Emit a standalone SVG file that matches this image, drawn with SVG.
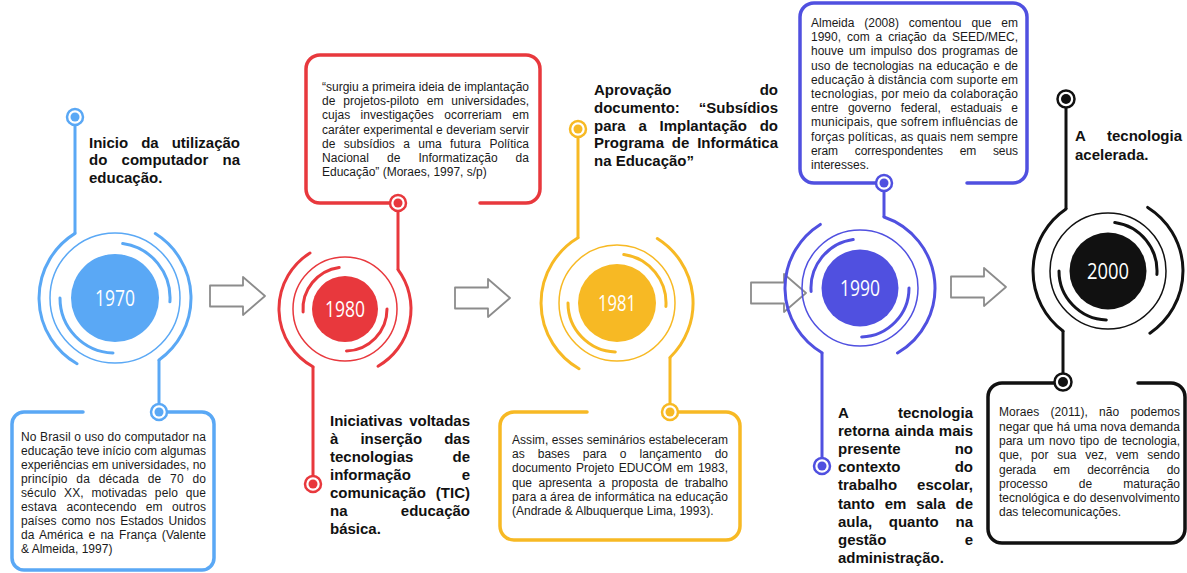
<svg xmlns="http://www.w3.org/2000/svg" width="1187" height="573" viewBox="0 0 1187 573">
<style>
.b{font-family:"Liberation Sans",Arial,sans-serif;font-size:12px;fill:#1a1a1a}
.h{font-family:"Liberation Sans",Arial,sans-serif;font-size:15px;font-weight:bold;fill:#111}
.e{text-anchor:end}
.yr{font-family:"Open Sans","Noto Sans",sans-serif;font-size:22px;fill:#fff;text-anchor:middle}
.arc{fill:none;stroke-width:3;stroke-linecap:round}
.ring{fill:none;stroke-width:1.5}
.box{fill:none;stroke-width:3.5;stroke-linecap:round}
.ln{stroke-width:3}
.mk{fill:#fff;stroke-width:2.5}
.arrow{fill:#fff;stroke:#8c8c8c;stroke-width:1.8;stroke-linejoin:round}
.cb{stroke:#5AA8F5}.fb{fill:#5AA8F5}
.cr{stroke:#E8383D}.fr{fill:#E8383D}
.cy{stroke:#F7B924}.fy{fill:#F7B924}
.cp{stroke:#5050E0}.fp{fill:#5050E0}
.ck{stroke:#111}.fk{fill:#111}
</style>
<rect width="1187" height="573" fill="#fff"/>

<!-- connectors -->
<g id="connectors">
<line class="ln cb" x1="75" y1="125" x2="75" y2="233.4"/>
<line class="ln cb" x1="159" y1="360" x2="159" y2="404"/>
<line class="ln cr" x1="398" y1="211" x2="398" y2="269.7"/>
<line class="ln cr" x1="313" y1="366.7" x2="313" y2="477"/>
<line class="ln cy" x1="578" y1="137" x2="578" y2="237.8"/>
<line class="ln cy" x1="670" y1="357.5" x2="670" y2="405"/>
<line class="ln cp" x1="884" y1="190" x2="884" y2="217"/>
<line class="ln cp" x1="822" y1="352.7" x2="822" y2="459"/>
<line class="ln ck" x1="1066" y1="107" x2="1066" y2="208.9"/>
<line class="ln ck" x1="1063" y1="331" x2="1063" y2="375"/>
<path class="arrow" d="M210,285.5 H243 V277 L265,296 L243,315 V306.5 H210 Z"/>
<path class="arrow" d="M455,287.5 H488 V279 L510,298 L488,317 V308.5 H455 Z"/>
<path class="arrow" d="M751,282.5 H784 V274 L806,293 L784,312 V303.5 H751 Z"/>
<path class="arrow" d="M951,276.5 H984 V268 L1006,287 L984,306 V297.5 H951 Z"/>
</g>

<!-- 1970 -->
<g id="node-1970">
<path class="arc cb" d="M77,363.8 A76,76 0 0 1 75,233.4"/>
<path class="arc cb" d="M155.3,233.6 A76,76 0 0 1 159,360"/>
<circle class="ring cb" cx="115" cy="298" r="65"/>
<path class="arc cb" d="M122.7,243.5 A55,55 0 0 1 169.9,301.8"/>
<path class="arc cb" d="M113,353 A55,55 0 0 1 60,298"/>
<circle class="fb" cx="115" cy="298" r="44"/>
<text class="yr" x="115" y="306" textLength="40" lengthAdjust="spacingAndGlyphs">1970</text>
<circle class="mk cb" cx="75" cy="117" r="8"/><circle class="fb" cx="75" cy="117" r="4.5"/>
</g>
<g id="title-1970">
<text class="h" x="89" y="147.5">Inicio</text><text class="h" x="141.2" y="147.5">da</text><text class="h e" x="240" y="147.5">utilização</text>
<text class="h" x="89" y="165">do</text><text class="h" x="121.6" y="165">computador</text><text class="h e" x="240" y="165">na</text>
<text class="h" x="89" y="182.5">educação.</text>
</g>
<g id="box-1970">
<path class="box cb" d="M83,412 H24 A12,12 0 0 0 12,424 V558 A12,12 0 0 0 24,570 H202 A12,12 0 0 0 214,558 V424 A12,12 0 0 0 202,412 H159"/>
<circle class="mk cb" cx="159" cy="412" r="8"/><circle class="fb" cx="159" cy="412" r="4.5"/>
<text class="b" x="21" y="441" textLength="185" lengthAdjust="spacing">No Brasil o uso do computador na</text>
<text class="b" x="21" y="455" textLength="185" lengthAdjust="spacing">educação teve início com algumas</text>
<text class="b" x="21" y="469" textLength="185" lengthAdjust="spacing">experiências em universidades, no</text>
<text class="b" x="21" y="483" textLength="185" lengthAdjust="spacing" word-spacing="5.3">princípio da década de 70 do</text>
<text class="b" x="21" y="497" textLength="185" lengthAdjust="spacing" word-spacing="4.2">século XX, motivadas pelo que</text>
<text class="b" x="21" y="511" textLength="185" lengthAdjust="spacing" word-spacing="5.8">estava acontecendo em outros</text>
<text class="b" x="21" y="525" textLength="185" lengthAdjust="spacing" word-spacing="1.7">países como nos Estados Unidos</text>
<text class="b" x="21" y="539" textLength="185" lengthAdjust="spacing" word-spacing="1.8">da América e na França (Valente</text>
<text class="b" x="21" y="553">&amp; Almeida, 1997)</text>
</g>

<!-- 1980 -->
<g id="node-1980">
<path class="arc cr" d="M398,269.7 A66,66 0 0 1 378,366.2"/>
<path class="arc cr" d="M313,366.7 A66,66 0 0 1 310,253"/>
<circle class="ring cr" cx="345" cy="309" r="52"/>
<path class="arc cr" d="M303.1,311.9 A42,42 0 0 1 339.2,267.4"/>
<path class="arc cr" d="M387,309 A42,42 0 0 1 346.5,351"/>
<circle class="fr" cx="345" cy="309" r="33"/>
<text class="yr" x="345" y="317" textLength="40" lengthAdjust="spacingAndGlyphs">1980</text>
<circle class="mk cr" cx="313" cy="484" r="8"/><circle class="fr" cx="313" cy="484" r="4.5"/>
</g>
<g id="box-1980">
<path class="box cr" d="M398,203 H320 A14,14 0 0 1 306,189 V69 A14,14 0 0 1 320,55 H526 A14,14 0 0 1 540,69 V189 A14,14 0 0 1 526,203 H480"/>
<circle class="mk cr" cx="398" cy="203" r="8"/><circle class="fr" cx="398" cy="203" r="4.5"/>
<text class="b" x="322" y="91" textLength="207" lengthAdjust="spacing">“surgiu a primeira ideia de implantação</text>
<text class="b" x="322" y="105.2" textLength="207" lengthAdjust="spacing" word-spacing="4.4">de projetos-piloto em universidades,</text>
<text class="b" x="322" y="119.4" textLength="207" lengthAdjust="spacing" word-spacing="7.1">cujas investigações ocorreriam em</text>
<text class="b" x="322" y="133.6" textLength="207" lengthAdjust="spacing">caráter experimental e deveriam servir</text>
<text class="b" x="322" y="147.8" textLength="207" lengthAdjust="spacing" word-spacing="5">de subsídios a uma futura Política</text>
<text class="b" x="322" y="162" textLength="207" lengthAdjust="spacing" word-spacing="14.6">Nacional de Informatização da</text>
<text class="b" x="322" y="176.2">Educação” (Moraes, 1997, s/p)</text>
</g>
<g id="title-1980">
<text class="h" x="330" y="426">Iniciativas</text><text class="h e" x="470" y="426">voltadas</text>
<text class="h" x="330" y="444">à</text><text class="h" x="360.4" y="444">inserção</text><text class="h e" x="470" y="444">das</text>
<text class="h" x="330" y="462">tecnologias</text><text class="h e" x="470" y="462">de</text>
<text class="h" x="330" y="480">informação</text><text class="h e" x="470" y="480">e</text>
<text class="h" x="330" y="498">comunicação</text><text class="h e" x="470" y="498">(TIC)</text>
<text class="h" x="330" y="516">na</text><text class="h e" x="470" y="516">educação</text>
<text class="h" x="330" y="534">básica.</text>
</g>

<!-- 1981 -->
<g id="node-1981">
<path class="arc cy" d="M579,368.8 A76,76 0 0 1 578,237.8"/>
<path class="arc cy" d="M657.3,238.5 A76,76 0 0 1 670,357.5"/>
<circle class="ring cy" cx="617" cy="303" r="58"/>
<path class="arc cy" d="M623.8,254.5 A49,49 0 0 1 665.9,306.4"/>
<path class="arc cy" d="M615.3,352 A49,49 0 0 1 568,303"/>
<circle class="fy" cx="617" cy="303" r="39"/>
<text class="yr" x="617" y="311" textLength="38" lengthAdjust="spacingAndGlyphs">1981</text>
<circle class="mk cy" cx="578" cy="129" r="8"/><circle class="fy" cx="578" cy="129" r="4.5"/>
</g>
<g id="title-1981">
<text class="h" x="594" y="95">Aprovação</text><text class="h e" x="778" y="95">do</text>
<text class="h" x="594" y="112.75">documento:</text><text class="h e" x="778" y="112.75">“Subsídios</text>
<text class="h" x="594" y="130.5">para</text><text class="h" x="638.4" y="130.5">a</text><text class="h" x="659.5" y="130.5">Implantação</text><text class="h e" x="778" y="130.5">do</text>
<text class="h" x="594" y="148.25">Programa</text><text class="h" x="671.8" y="148.25">de</text><text class="h e" x="778" y="148.25">Informática</text>
<text class="h" x="594" y="166">na Educação”</text>
</g>
<g id="box-1981">
<path class="box cy" d="M587,412 H514 A14,14 0 0 0 500,426 V526 A14,14 0 0 0 514,540 H726 A14,14 0 0 0 740,526 V426 A14,14 0 0 0 726,412 H670"/>
<circle class="mk cy" cx="670" cy="412" r="8"/><circle class="fy" cx="670" cy="412" r="4.5"/>
<text class="b" x="512" y="444" textLength="216" lengthAdjust="spacing">Assim, esses seminários estabeleceram</text>
<text class="b" x="512" y="458.2" textLength="216" lengthAdjust="spacing" word-spacing="9.7">as bases para o lançamento do</text>
<text class="b" x="512" y="472.4" textLength="216" lengthAdjust="spacing" word-spacing="1.3">documento Projeto EDUCOM em 1983,</text>
<text class="b" x="512" y="486.6" textLength="216" lengthAdjust="spacing" word-spacing="3.2">que apresenta a proposta de trabalho</text>
<text class="b" x="512" y="500.8" textLength="216" lengthAdjust="spacing">para a área de informática na educação</text>
<text class="b" x="512" y="515">(Andrade &amp; Albuquerque Lima, 1993).</text>
</g>

<!-- 1990 -->
<g id="node-1990">
<path class="arc cp" d="M884,217 A75,75 0 0 1 897.5,353"/>
<path class="arc cp" d="M822,352.7 A75,75 0 0 1 820.3,224.4"/>
<circle class="ring cp" cx="860" cy="288" r="58"/>
<path class="arc cp" d="M811.1,291.4 A49,49 0 0 1 853.2,239.5"/>
<path class="arc cp" d="M909,288 A49,49 0 0 1 861.7,337"/>
<circle class="fp" cx="860" cy="288" r="38.5"/>
<text class="yr" x="860" y="296" textLength="40" lengthAdjust="spacingAndGlyphs">1990</text>
<circle class="mk cp" cx="822" cy="466" r="8"/><circle class="fp" cx="822" cy="466" r="4.5"/>
</g>
<g id="box-1990">
<path class="box cp" d="M884,183 H814 A14,14 0 0 1 800,169 V17 A14,14 0 0 1 814,3 H1013 A14,14 0 0 1 1027,17 V169 A14,14 0 0 1 1013,183 H967"/>
<circle class="mk cp" cx="884" cy="183" r="8"/><circle class="fp" cx="884" cy="183" r="4.5"/>
<text class="b" x="811" y="27" textLength="207" lengthAdjust="spacing" word-spacing="6.6">Almeida (2008) comentou que em</text>
<text class="b" x="811" y="41.2" textLength="207" lengthAdjust="spacing" word-spacing="2.6">1990, com a criação da SEED/MEC,</text>
<text class="b" x="811" y="55.4" textLength="207" lengthAdjust="spacing" word-spacing="1.9">houve um impulso dos programas de</text>
<text class="b" x="811" y="69.6" textLength="207" lengthAdjust="spacing" word-spacing="1.4">uso de tecnologias na educação e de</text>
<text class="b" x="811" y="83.8" textLength="207" lengthAdjust="spacing">educação à distância com suporte em</text>
<text class="b" x="811" y="98" textLength="207" lengthAdjust="spacing">tecnologias, por meio da colaboração</text>
<text class="b" x="811" y="112.2" textLength="207" lengthAdjust="spacing" word-spacing="6.2">entre governo federal, estaduais e</text>
<text class="b" x="811" y="126.4" textLength="207" lengthAdjust="spacing">municipais, que sofrem influências de</text>
<text class="b" x="811" y="140.6" textLength="207" lengthAdjust="spacing">forças políticas, as quais nem sempre</text>
<text class="b" x="811" y="154.8" textLength="207" lengthAdjust="spacing" word-spacing="13.5">eram correspondentes em seus</text>
<text class="b" x="811" y="169">interesses.</text>
</g>
<g id="title-1990">
<text class="h" x="838" y="418">A</text><text class="h e" x="973" y="418">tecnologia</text>
<text class="h" x="838" y="436.1">retorna</text><text class="h" x="894.7" y="436.1">ainda</text><text class="h e" x="973" y="436.1">mais</text>
<text class="h" x="838" y="454.2">presente</text><text class="h e" x="973" y="454.2">no</text>
<text class="h" x="838" y="472.3">contexto</text><text class="h e" x="973" y="472.3">do</text>
<text class="h" x="838" y="490.4">trabalho</text><text class="h e" x="973" y="490.4">escolar,</text>
<text class="h" x="838" y="508.5">tanto</text><text class="h" x="884.7" y="508.5">em</text><text class="h" x="916.3" y="508.5">sala</text><text class="h e" x="973" y="508.5">de</text>
<text class="h" x="838" y="526.6">aula,</text><text class="h" x="888.8" y="526.6">quanto</text><text class="h e" x="973" y="526.6">na</text>
<text class="h" x="838" y="544.7">gestão</text><text class="h e" x="973" y="544.7">e</text>
<text class="h" x="838" y="562.8">administração.</text>
</g>

<!-- 2000 -->
<g id="node-2000">
<path class="arc ck" d="M1063,331 A75,75 0 0 1 1066,208.9"/>
<path class="arc ck" d="M1147.7,207.4 A75,75 0 0 1 1149.9,333.2"/>
<circle class="ring ck" cx="1108" cy="271" r="58"/>
<path class="arc ck" d="M1114.8,222.5 A49,49 0 0 1 1156.9,274.4"/>
<path class="arc ck" d="M1106.3,320 A49,49 0 0 1 1059,271"/>
<circle class="fk" cx="1108" cy="271" r="38.5"/>
<text class="yr" x="1108" y="279" textLength="42" lengthAdjust="spacingAndGlyphs">2000</text>
<circle class="mk ck" cx="1066" cy="99" r="8.5" stroke-width="3"/><circle class="fk" cx="1066" cy="99" r="5"/>
</g>
<g id="title-2000">
<text class="h" x="1075" y="141">A</text><text class="h e" x="1182" y="141">tecnologia</text>
<text class="h" x="1075" y="159.5">acelerada.</text>
</g>
<g id="box-2000">
<path class="box ck" stroke-width="4" d="M1063,383 H1002 A14,14 0 0 0 988,397 V529 A14,14 0 0 0 1002,543 H1171 A14,14 0 0 0 1185,529 V397 A14,14 0 0 0 1171,383 H1138"/>
<circle class="mk ck" cx="1063" cy="382" r="8.5" stroke-width="3"/><circle class="fk" cx="1063" cy="382" r="5"/>
<text class="b" x="999" y="416.3" textLength="181" lengthAdjust="spacing" word-spacing="7.9">Moraes (2011), não podemos</text>
<text class="b" x="999" y="430.6" textLength="181" lengthAdjust="spacing">negar que há uma nova demanda</text>
<text class="b" x="999" y="444.9" textLength="181" lengthAdjust="spacing" word-spacing="1.4">para um novo tipo de tecnologia,</text>
<text class="b" x="999" y="459.2" textLength="181" lengthAdjust="spacing" word-spacing="5.4">que, por sua vez, vem sendo</text>
<text class="b" x="999" y="473.5" textLength="181" lengthAdjust="spacing" word-spacing="13.9">gerada em decorrência do</text>
<text class="b" x="999" y="487.8" textLength="181" lengthAdjust="spacing" word-spacing="27.8">processo de maturação</text>
<text class="b" x="999" y="502.1" textLength="181" lengthAdjust="spacing">tecnológica e do desenvolvimento</text>
<text class="b" x="999" y="516.4">das telecomunicações.</text>
</g>
</svg>
